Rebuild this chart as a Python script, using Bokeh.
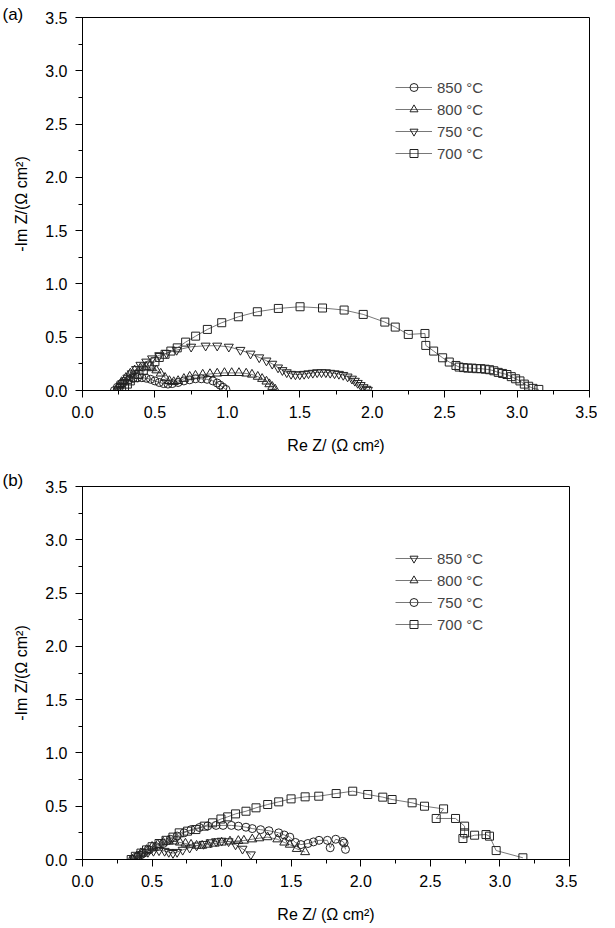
from bokeh.plotting import figure
from bokeh.models import (Range1d, SingleIntervalTicker, NumeralTickFormatter,
                          Legend, LegendItem)
from bokeh.layouts import column
from bokeh.embed import file_html
from bokeh.resources import INLINE

FONT = "Liberation Sans"

# ---------------- panel (a) data ----------------
a850_x = [0.22, 0.24, 0.26, 0.29, 0.32, 0.35, 0.38, 0.41, 0.44, 0.47, 0.50, 0.53, 0.56,
          0.59, 0.62, 0.66, 0.70, 0.74, 0.78, 0.82, 0.86, 0.90, 0.93, 0.95, 0.97, 0.99]
a850_y = [0.0, 0.03, 0.06, 0.085, 0.10, 0.115, 0.12, 0.12, 0.115, 0.105, 0.09, 0.075, 0.065,
          0.06, 0.065, 0.075, 0.09, 0.10, 0.11, 0.11, 0.105, 0.09, 0.07, 0.05, 0.03, 0.01]

a800_x = [0.23, 0.25, 0.27, 0.30, 0.33, 0.36, 0.40, 0.44, 0.48, 0.51, 0.54, 0.57, 0.60, 0.63,
          0.66, 0.70, 0.74, 0.78, 0.83, 0.88, 0.93, 0.98, 1.03, 1.08, 1.13, 1.17, 1.21, 1.24,
          1.27, 1.29, 1.31, 1.33]
a800_y = [0.0, 0.04, 0.08, 0.12, 0.16, 0.19, 0.21, 0.22, 0.21, 0.19, 0.16, 0.12, 0.09, 0.08,
          0.09, 0.11, 0.13, 0.14, 0.15, 0.155, 0.16, 0.165, 0.165, 0.165, 0.16, 0.15, 0.13, 0.11,
          0.085, 0.06, 0.035, 0.01]

a750_x = [0.25, 0.27, 0.29, 0.31, 0.34, 0.37, 0.40, 0.44, 0.48, 0.53, 0.58, 0.65, 0.75, 0.85,
          0.93, 1.01, 1.09, 1.16, 1.22, 1.27, 1.31, 1.35, 1.38, 1.41, 1.44, 1.47, 1.50, 1.53,
          1.56, 1.59, 1.62, 1.65, 1.68, 1.71, 1.74, 1.77, 1.80, 1.83, 1.86, 1.88, 1.90, 1.92,
          1.94, 1.96, 1.97]
a750_y = [0.0, 0.04, 0.08, 0.12, 0.16, 0.20, 0.24, 0.27, 0.30, 0.33, 0.35, 0.38, 0.41, 0.42,
          0.42, 0.41, 0.38, 0.345, 0.31, 0.28, 0.25, 0.215, 0.19, 0.17, 0.155, 0.15, 0.15, 0.155,
          0.16, 0.165, 0.17, 0.17, 0.17, 0.165, 0.16, 0.155, 0.145, 0.13, 0.11, 0.09, 0.07, 0.05,
          0.03, 0.015, 0.005]

a700_x = [0.27, 0.29, 0.31, 0.33, 0.36, 0.39, 0.42, 0.46, 0.50, 0.53, 0.57, 0.61, 0.654, 0.712,
          0.781, 0.862, 0.961, 1.076, 1.207, 1.352, 1.502, 1.657, 1.806, 1.938, 2.087, 2.159,
          2.249, 2.364, 2.37, 2.424, 2.486, 2.532, 2.578, 2.60, 2.63, 2.66, 2.69, 2.72, 2.75,
          2.78, 2.81, 2.84, 2.87, 2.90, 2.93, 2.96, 2.99, 3.02, 3.05, 3.08, 3.11, 3.15]
a700_y = [0.0, 0.03, 0.06, 0.09, 0.12, 0.15, 0.19, 0.23, 0.27, 0.31, 0.34, 0.37, 0.40, 0.454,
          0.51, 0.573, 0.636, 0.692, 0.739, 0.77, 0.786, 0.774, 0.755, 0.714, 0.642, 0.595,
          0.526, 0.535, 0.423, 0.37, 0.307, 0.267, 0.235, 0.22, 0.215, 0.21, 0.21, 0.205, 0.205,
          0.2, 0.195, 0.185, 0.17, 0.16, 0.15, 0.13, 0.11, 0.09, 0.06, 0.04, 0.02, 0.01]

# ---------------- panel (b) data ----------------
b850_x = [0.37, 0.40, 0.43, 0.47, 0.51, 0.55, 0.59, 0.62, 0.65, 0.68, 0.72, 0.77, 0.82, 0.87,
          0.92, 0.96, 1.00, 1.05, 1.10, 1.15, 1.21]
b850_y = [0.0, 0.03, 0.05, 0.07, 0.08, 0.085, 0.08, 0.07, 0.06, 0.07, 0.09, 0.11, 0.13, 0.145,
          0.16, 0.17, 0.175, 0.17, 0.14, 0.10, 0.047]

b800_x = [0.36, 0.39, 0.42, 0.46, 0.50, 0.54, 0.58, 0.62, 0.66, 0.70, 0.74, 0.78, 0.82, 0.86,
          0.90, 0.95, 1.00, 1.06, 1.12, 1.16, 1.22, 1.27, 1.33, 1.40, 1.45, 1.49, 1.54, 1.60]
b800_y = [0.0, 0.03, 0.06, 0.09, 0.12, 0.14, 0.16, 0.17, 0.17, 0.16, 0.15, 0.14, 0.13, 0.13,
          0.14, 0.15, 0.16, 0.17, 0.175, 0.178, 0.19, 0.20, 0.21, 0.19, 0.16, 0.14, 0.10, 0.07]

b750_x = [0.36, 0.40, 0.44, 0.48, 0.53, 0.58, 0.63, 0.68, 0.73, 0.78, 0.84, 0.90, 0.96, 1.01,
          1.07, 1.12, 1.175, 1.22, 1.28, 1.34, 1.41, 1.45, 1.49, 1.53, 1.57, 1.62, 1.66, 1.70,
          1.76, 1.78, 1.82, 1.87, 1.88, 1.89]
b750_y = [0.0, 0.03, 0.06, 0.09, 0.12, 0.15, 0.19, 0.22, 0.25, 0.28, 0.30, 0.315, 0.32, 0.32,
          0.32, 0.313, 0.303, 0.29, 0.28, 0.27, 0.25, 0.23, 0.21, 0.16, 0.14, 0.15, 0.165, 0.18,
          0.18, 0.11, 0.19, 0.17, 0.155, 0.095]

b700_x = [0.35, 0.38, 0.42, 0.46, 0.50, 0.55, 0.60, 0.65, 0.695, 0.755, 0.815, 0.875, 0.935,
          0.995, 1.043, 1.10, 1.175, 1.247, 1.331, 1.41, 1.499, 1.60, 1.698, 1.823, 1.942, 2.05,
          2.158, 2.225, 2.369, 2.458, 2.595, 2.542, 2.681, 2.746, 2.746, 2.734, 2.818, 2.90,
          2.925, 2.973, 3.165]
b700_y = [0.0, 0.03, 0.06, 0.09, 0.12, 0.15, 0.18, 0.21, 0.25, 0.266, 0.281, 0.313, 0.344,
          0.38, 0.40, 0.428, 0.453, 0.485, 0.516, 0.541, 0.569, 0.588, 0.594, 0.619, 0.641, 0.61,
          0.585, 0.563, 0.532, 0.50, 0.475, 0.385, 0.385, 0.313, 0.25, 0.197, 0.228, 0.234,
          0.219, 0.084, 0.016]

a_series = [("850 \u00b0C", a850_x, a850_y, "circle", 8),
            ("800 \u00b0C", a800_x, a800_y, "triangle", 9),
            ("750 \u00b0C", a750_x, a750_y, "inverted_triangle", 9),
            ("700 \u00b0C", a700_x, a700_y, "square", 8)]
b_series = [("850 \u00b0C", b850_x, b850_y, "inverted_triangle", 9),
            ("800 \u00b0C", b800_x, b800_y, "triangle", 9),
            ("750 \u00b0C", b750_x, b750_y, "circle", 8),
            ("700 \u00b0C", b700_x, b700_y, "square", 8)]

X_LABEL = "Re Z/ (\u03a9 cm\u00b2)"
Y_LABEL = "-Im Z/(\u03a9 cm\u00b2)"


def panel(tag, series, frame_w, b_top, b_bottom, legend_y, tag_standoff):
    p = figure(frame_width=frame_w, frame_height=373,
               x_range=Range1d(0, 3.5), y_range=Range1d(0, 3.5),
               output_backend="svg", toolbar_location=None,
               min_border_left=82, min_border_right=8,
               min_border_top=b_top, min_border_bottom=b_bottom,
               title=tag)
    p.title.align = "left"
    p.title.offset = -80
    p.title.standoff = tag_standoff
    p.title.text_font = FONT
    p.title.text_font_size = "17px"
    p.title.text_font_style = "normal"
    p.title.text_color = "black"
    p.background_fill_color = "white"
    p.border_fill_color = "white"
    p.grid.visible = False
    p.outline_line_color = "black"
    p.outline_line_width = 1
    for ax in (p.xaxis[0], p.yaxis[0]):
        ax.ticker = SingleIntervalTicker(interval=0.5, num_minor_ticks=2)
        ax.formatter = NumeralTickFormatter(format="0.0")
        ax.axis_line_color = "black"
        ax.major_tick_line_color = "black"
        ax.minor_tick_line_color = "black"
        ax.major_tick_in = 0
        ax.major_tick_out = 7
        ax.minor_tick_in = 0
        ax.minor_tick_out = 4
        ax.major_label_text_font = FONT
        ax.major_label_text_font_size = "16px"
        ax.major_label_text_color = "black"
        ax.major_label_standoff = 8
        ax.axis_label_text_font = FONT
        ax.axis_label_text_font_size = "16px"
        ax.axis_label_text_font_style = "normal"
        ax.axis_label_text_color = "black"
    p.xaxis.axis_label = X_LABEL
    p.yaxis.axis_label = Y_LABEL
    p.xaxis.axis_label_standoff = 16
    p.yaxis.axis_label_standoff = 12

    items = []
    for label, xs, ys, marker, size in series:
        ln = p.line(xs, ys, line_color="#555555", line_width=0.8)
        sc = p.scatter(xs, ys, marker=marker, size=size, line_color="#222222",
                       line_width=1, fill_alpha=0)
        items.append(LegendItem(label=label, renderers=[ln, sc]))
    leg = Legend(items=items, location=(313, legend_y), padding=0, margin=0,
                 spacing=2, glyph_width=37, glyph_height=20, label_height=20,
                 label_standoff=5, label_text_font=FONT, label_text_font_size="15px",
                 border_line_alpha=0, background_fill_alpha=0)
    p.add_layout(leg)
    return p


pa = panel("(a)", a_series, 507, 17, 62, 227, -13)
pb = panel("(b)", b_series, 487, 30, 55, 225, -6)

layout = column(pa, pb)
open("out.html", "w").write(file_html(layout, INLINE))
